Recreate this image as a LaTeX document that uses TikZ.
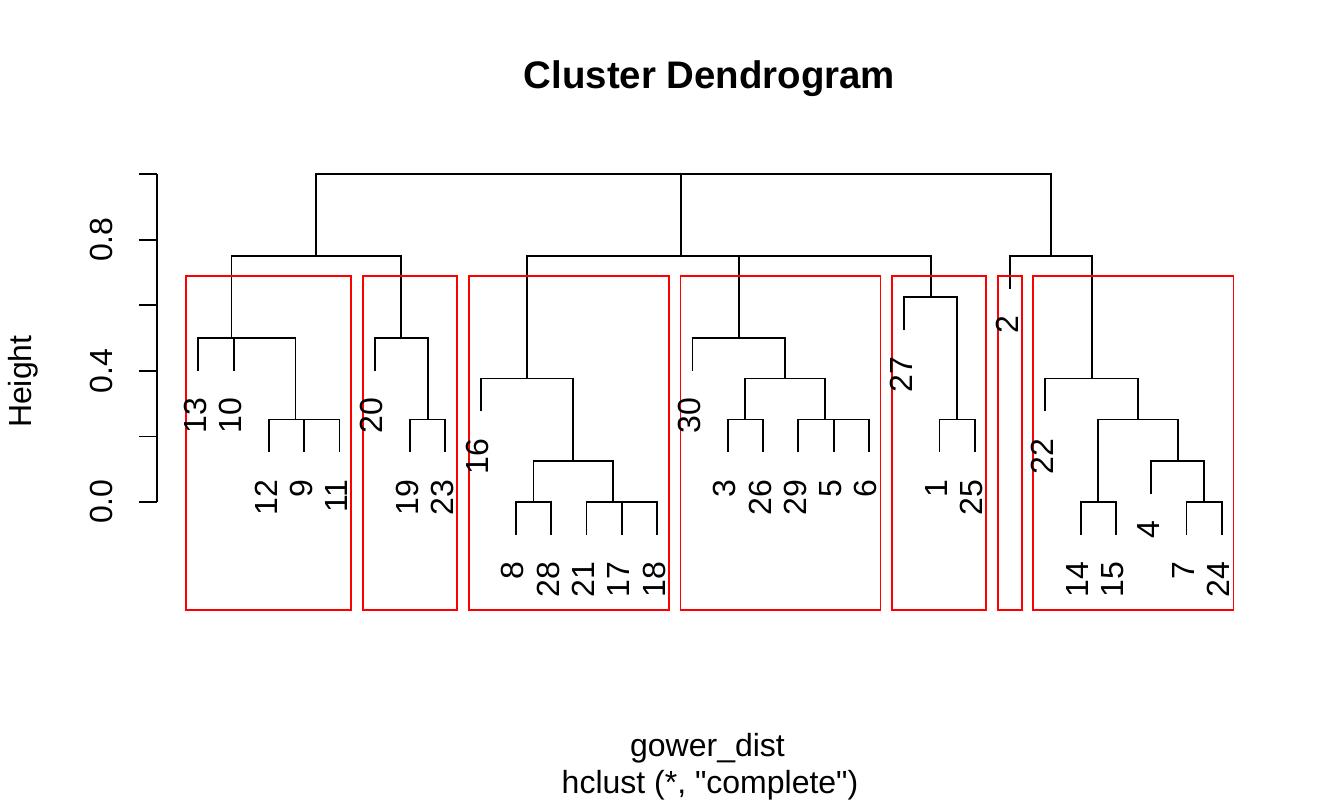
\documentclass[tikz,border=0pt]{standalone}
\usepackage{fontspec}
\setmainfont{Liberation Sans}
\usepackage{tikz}

\newcommand{\dquote}{\XeTeXglyph\XeTeXcharglyph"22\relax}

\tikzset{
  branch/.style={line width=1.8pt},
  clusterbox/.style={draw=red, line width=1.8pt},
  leaf/.style={rotate=90, anchor=east, inner sep=0pt, font=\fontsize{32}{38}\selectfont},
  ticklabel/.style={rotate=90, anchor=center, inner sep=0pt, font=\fontsize{32}{38}\selectfont}
}

\begin{document}
\begin{tikzpicture}[x=1pt, y=1pt, yscale=-1, xscale=1]
\useasboundingbox (0, 0) rectangle (1344, 806);
%Axis
\draw [branch] (157, 174) -- (157, 501.7);
\draw [branch] (138.7, 174) -- (157, 174);
\draw [branch] (138.7, 239.7) -- (157, 239.7);
\draw [branch] (138.7, 305.3) -- (157, 305.3);
\draw [branch] (138.7, 370.9) -- (157, 370.9);
\draw [branch] (138.7, 436.4) -- (157, 436.4);
\draw [branch] (138.7, 501.7) -- (157, 501.7);
%Tree, left group
\draw [branch] (304.2, 452.3) -- (304.2, 419.5) -- (339.5, 419.5) -- (339.5, 452.3);
\draw [branch] (268.9, 452.3) -- (268.9, 419.5) -- (321.85, 419.5);
\draw [branch] (233.6, 370.5) -- (233.6, 337.7) -- (295.4, 337.7) -- (295.4, 419.5);
\draw [branch] (198.3, 370.5) -- (198.3, 337.7) -- (264.5, 337.7);
\draw [branch] (410.0, 452.3) -- (410.0, 419.5) -- (445.3, 419.5) -- (445.3, 452.3);
\draw [branch] (374.8, 370.5) -- (374.8, 337.7) -- (427.65, 337.7) -- (427.65, 419.5);
\draw [branch] (231.4, 337.7) -- (231.4, 256) -- (401.2, 256) -- (401.2, 337.7);
%Tree, middle group
\draw [branch] (515.9, 534.5) -- (515.9, 501.7) -- (551.2, 501.7) -- (551.2, 534.5);
\draw [branch] (621.8, 534.5) -- (621.8, 501.7) -- (657.1, 501.7) -- (657.1, 534.5);
\draw [branch] (586.5, 534.5) -- (586.5, 501.7) -- (639.45, 501.7);
\draw [branch] (533.55, 501.7) -- (533.55, 461) -- (612.98, 461) -- (612.98, 501.7);
\draw [branch] (480.6, 411.3) -- (480.6, 378.5) -- (573.26, 378.5) -- (573.26, 461);
\draw [branch] (727.7, 452.3) -- (727.7, 419.5) -- (763.0, 419.5) -- (763.0, 452.3);
\draw [branch] (833.6, 452.3) -- (833.6, 419.5) -- (868.9, 419.5) -- (868.9, 452.3);
\draw [branch] (798.3, 452.3) -- (798.3, 419.5) -- (851.25, 419.5);
\draw [branch] (745.35, 419.5) -- (745.35, 378.5) -- (824.78, 378.5) -- (824.78, 419.5);
\draw [branch] (692.4, 370.5) -- (692.4, 337.7) -- (785.06, 337.7) -- (785.06, 378.5);
\draw [branch] (939.5, 452.3) -- (939.5, 419.5) -- (974.7, 419.5) -- (974.7, 452.3);
\draw [branch] (904.2, 329.5) -- (904.2, 296.7) -- (957.1, 296.7) -- (957.1, 419.5);
\draw [branch] (738.7, 337.7) -- (738.7, 256) -- (930.65, 256) -- (930.65, 296.7);
\draw [branch] (526.9, 378.5) -- (526.9, 256) -- (834.7, 256);
%Tree, right group
\draw [branch] (1080.6, 534.5) -- (1080.6, 501.7) -- (1115.9, 501.7) -- (1115.9, 534.5);
\draw [branch] (1186.5, 534.5) -- (1186.5, 501.7) -- (1221.8, 501.7) -- (1221.8, 534.5);
\draw [branch] (1151.2, 493.8) -- (1151.2, 461) -- (1204.15, 461) -- (1204.15, 501.7);
\draw [branch] (1098.25, 501.7) -- (1098.25, 419.5) -- (1177.7, 419.5) -- (1177.7, 461);
\draw [branch] (1045.3, 411.3) -- (1045.3, 378.5) -- (1137.96, 378.5) -- (1137.96, 419.5);
\draw [branch] (1010.0, 288.8) -- (1010.0, 256) -- (1091.6, 256) -- (1091.6, 378.5);
%Root
\draw [branch] (316.3, 256) -- (316.3, 174) -- (680.8, 174) -- (680.8, 256);
\draw [branch] (498.5, 174) -- (1050.8, 174) -- (1050.8, 256);
%Boxes
\draw [clusterbox] (186.3, 276) rectangle (351.1, 609.7);
\draw [clusterbox] (362.8, 276) rectangle (456.9, 609.7);
\draw [clusterbox] (468.6, 276) rectangle (668.7, 609.7);
\draw [clusterbox] (680.4, 276) rectangle (880.5, 609.7);
\draw [clusterbox] (892.2, 276) rectangle (986.3, 609.7);
\draw [clusterbox] (998.0, 276) rectangle (1021.7, 609.7);
\draw [clusterbox] (1033.3, 276) rectangle (1233.4, 609.7);
%Text
\draw (195.3, 397.5) node [leaf] (l13) {13};
\draw (230.6, 397.5) node [leaf] (l10) {10};
\draw (265.9, 479.3) node [leaf] (l12) {12};
\draw (301.2, 479.3) node [leaf] (l9) {9};
\draw (336.5, 479.3) node [leaf] (l11) {11};
\draw (371.8, 397.5) node [leaf] (l20) {20};
\draw (407.0, 479.3) node [leaf] (l19) {19};
\draw (442.3, 479.3) node [leaf] (l23) {23};
\draw (477.6, 438.3) node [leaf] (l16) {16};
\draw (512.9, 561.5) node [leaf] (l8) {8};
\draw (548.2, 561.5) node [leaf] (l28) {28};
\draw (583.5, 561.5) node [leaf] (l21) {21};
\draw (618.8, 561.5) node [leaf] (l17) {17};
\draw (654.1, 561.5) node [leaf] (l18) {18};
\draw (689.4, 397.5) node [leaf] (l30) {30};
\draw (724.7, 479.3) node [leaf] (l3) {3};
\draw (760.0, 479.3) node [leaf] (l26) {26};
\draw (795.3, 479.3) node [leaf] (l29) {29};
\draw (830.6, 479.3) node [leaf] (l5) {5};
\draw (865.9, 479.3) node [leaf] (l6) {6};
\draw (901.2, 356.5) node [leaf] (l27) {27};
\draw (936.5, 479.3) node [leaf] (l1) {1};
\draw (971.7, 479.3) node [leaf] (l25) {25};
\draw (1007.0, 315.8) node [leaf] (l2) {2};
\draw (1042.3, 438.3) node [leaf] (l22) {22};
\draw (1077.6, 561.5) node [leaf] (l14) {14};
\draw (1112.9, 561.5) node [leaf] (l15) {15};
\draw (1148.2, 520.8) node [leaf] (l4) {4};
\draw (1183.5, 561.5) node [leaf] (l7) {7};
\draw (1218.8, 561.5) node [leaf] (l24) {24};
\draw (101, 501.7) node [ticklabel] (t0) {0.0};
\draw (101, 370.9) node [ticklabel] (t4) {0.4};
\draw (101, 239.7) node [ticklabel] (t8) {0.8};
\draw (23, 381.7) node [ticklabel] (ylab) {Height};
\draw (709.5, 88.3) node [anchor=base, inner sep=0pt, font=\fontsize{38.4}{46}\selectfont\bfseries] (title) {Cluster Dendrogram};
\draw (707.5, 756.7) node [anchor=base, inner sep=0pt, font=\fontsize{32}{38}\selectfont] (xlab) {gower\_dist};
\draw (710, 793.3) node [anchor=base, inner sep=0pt, font=\fontsize{32}{38}\selectfont] (sub) {hclust (*, \dquote complete\dquote)};
\end{tikzpicture}
\end{document}
